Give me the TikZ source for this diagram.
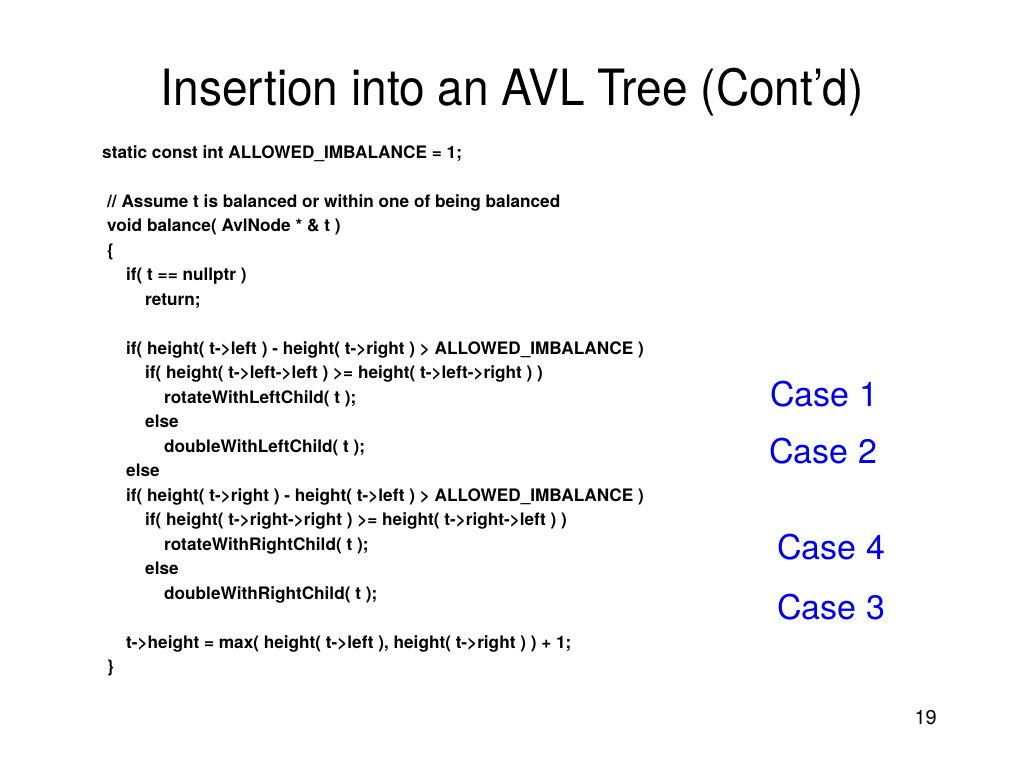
\documentclass[tikz,border=0pt]{standalone}
\usepackage{fontspec}
\setmainfont{TeX Gyre Heros}
\usetikzlibrary{positioning}

\begin{document}
\begin{tikzpicture}[%
    x=1pt,
    y=-1pt,
    title/.style={anchor=base, inner sep=0, font={\fontsize{50}{60}\selectfont}, xscale=0.92},
    code/.style={anchor=base west, inner sep=0, font={\fontsize{17.2}{20}\selectfont\bfseries}},
    case/.style={anchor=base west, inner sep=0, text=blue!90!black, font={\fontsize{34}{40}\selectfont}},
    pagenum/.style={anchor=base east, inner sep=0, font={\fontsize{20}{24}\selectfont}}
    ]

    \fill[white] (0,0) rectangle (1024,768);
    \useasboundingbox (0,0) rectangle (1024,768);

    \node[title] (title) at (512,105) {Insertion into an AVL Tree (Cont’d)};

    \node[code] (decl) at (102,158) {static const int ALLOWED\_IMBALANCE = 1;};

    \node[code] (comment) at (107,207) {// Assume t is balanced or within one of being balanced};
    \node[code] (head) at (107,231.5) {void balance( AvlNode * \& t )};
    \node[code] (open) at (107,256) {\{};
    \node[code] (ifnull) at (126,280.5) {if( t == nullptr )};
    \node[code] (ret) at (145,305) {return;};

    \node[code] (ifleft) at (126,354) {if( height( t->left ) - height( t->right ) > ALLOWED\_IMBALANCE )};
    \node[code] (ifll) at (145,378.5) {if( height( t->left->left ) >= height( t->left->right ) )};
    \node[code] (rotl) at (164,403) {rotateWithLeftChild( t );};
    \node[code] (elsel) at (145,427.5) {else};
    \node[code] (dbll) at (164,452) {doubleWithLeftChild( t );};
    \node[code] (else) at (126,476.5) {else};
    \node[code] (ifright) at (126,501) {if( height( t->right ) - height( t->left ) > ALLOWED\_IMBALANCE )};
    \node[code] (ifrr) at (145,525.5) {if( height( t->right->right ) >= height( t->right->left ) )};
    \node[code] (rotr) at (164,550) {rotateWithRightChild( t );};
    \node[code] (elser) at (145,574.5) {else};
    \node[code] (dblr) at (164,599) {doubleWithRightChild( t );};

    \node[code] (upd) at (126,648) {t->height = max( height( t->left ), height( t->right ) ) + 1;};
    \node[code] (close) at (107,672.5) {\}};

    % case labels
    \node[case] (case1) at (770,406) {Case 1};
    \node[case] (case2) at (769,463) {Case 2};
    \node[case] (case4) at (777,559) {Case 4};
    \node[case] (case3) at (777,619) {Case 3};

    \node[pagenum] (num) at (937,724) {19};

\end{tikzpicture}
\end{document}
